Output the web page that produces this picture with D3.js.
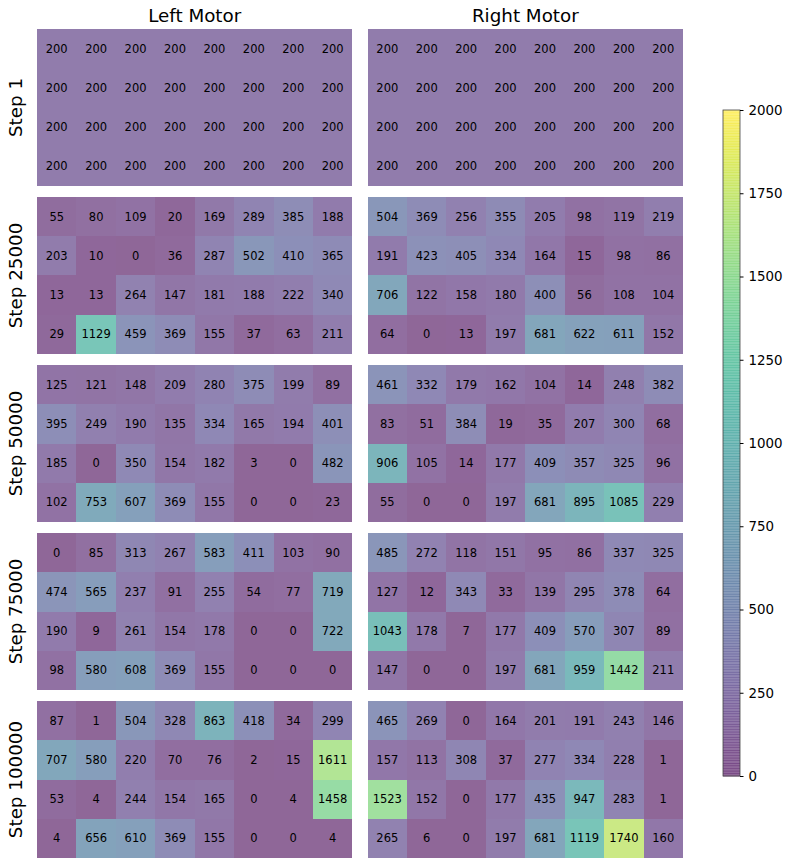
<!DOCTYPE html>
<html>
<head>
<meta charset="utf-8">
<script src="https://cdn.jsdelivr.net/npm/d3@7"></script>
<style>
  body { margin: 0; background: #fff; }
  text { font-family: "DejaVu Sans", sans-serif; }
</style>
</head>
<body>
<div id="graphic"></div>
<script>
var steps = ["Step 1", "Step 25000", "Step 50000", "Step 75000", "Step 100000"];
var motors = ["Left Motor", "Right Motor"];
var colorTicks = [0, 250, 500, 750, 1000, 1250, 1500, 1750, 2000];

// 4 rows x 8 columns for each motor, per step
var leftStep1 = [
  [200, 200, 200, 200, 200, 200, 200, 200],
  [200, 200, 200, 200, 200, 200, 200, 200],
  [200, 200, 200, 200, 200, 200, 200, 200],
  [200, 200, 200, 200, 200, 200, 200, 200]
];
var rightStep1 = [
  [200, 200, 200, 200, 200, 200, 200, 200],
  [200, 200, 200, 200, 200, 200, 200, 200],
  [200, 200, 200, 200, 200, 200, 200, 200],
  [200, 200, 200, 200, 200, 200, 200, 200]
];
var leftStep25000 = [
  [55, 80, 109, 20, 169, 289, 385, 188],
  [203, 10, 0, 36, 287, 502, 410, 365],
  [13, 13, 264, 147, 181, 188, 222, 340],
  [29, 1129, 459, 369, 155, 37, 63, 211]
];
var rightStep25000 = [
  [504, 369, 256, 355, 205, 98, 119, 219],
  [191, 423, 405, 334, 164, 15, 98, 86],
  [706, 122, 158, 180, 400, 56, 108, 104],
  [64, 0, 13, 197, 681, 622, 611, 152]
];
var leftStep50000 = [
  [125, 121, 148, 209, 280, 375, 199, 89],
  [395, 249, 190, 135, 334, 165, 194, 401],
  [185, 0, 350, 154, 182, 3, 0, 482],
  [102, 753, 607, 369, 155, 0, 0, 23]
];
var rightStep50000 = [
  [461, 332, 179, 162, 104, 14, 248, 382],
  [83, 51, 384, 19, 35, 207, 300, 68],
  [906, 105, 14, 177, 409, 357, 325, 96],
  [55, 0, 0, 197, 681, 895, 1085, 229]
];
var leftStep75000 = [
  [0, 85, 313, 267, 583, 411, 103, 90],
  [474, 565, 237, 91, 255, 54, 77, 719],
  [190, 9, 261, 154, 178, 0, 0, 722],
  [98, 580, 608, 369, 155, 0, 0, 0]
];
var rightStep75000 = [
  [485, 272, 118, 151, 95, 86, 337, 325],
  [127, 12, 343, 33, 139, 295, 378, 64],
  [1043, 178, 7, 177, 409, 570, 307, 89],
  [147, 0, 0, 197, 681, 959, 1442, 211]
];
var leftStep100000 = [
  [87, 1, 504, 328, 863, 418, 34, 299],
  [707, 580, 220, 70, 76, 2, 15, 1611],
  [53, 4, 244, 154, 165, 0, 4, 1458],
  [4, 656, 610, 369, 155, 0, 0, 4]
];
var rightStep100000 = [
  [465, 269, 0, 164, 201, 191, 243, 146],
  [157, 113, 308, 37, 277, 334, 228, 1],
  [1523, 152, 0, 177, 435, 947, 283, 1],
  [265, 6, 0, 197, 681, 1119, 1740, 160]
];

var grids = [
  [leftStep1, rightStep1],
  [leftStep25000, rightStep25000],
  [leftStep50000, rightStep50000],
  [leftStep75000, rightStep75000],
  [leftStep100000, rightStep100000]
];

var width = 789, height = 865;
var svg = d3.select("#graphic").append("svg")
  .attr("width", width)
  .attr("height", height);

var viridis = d3.scaleSequential(d3.interpolateViridis).domain([0, 2000]);
var alpha = 0.6;
// viridis at alpha 0.6 over white, as an opaque colour (no seams between cells)
function color(v) {
  var c = d3.rgb(viridis(v));
  return d3.rgb(c.r * alpha + 255 * (1 - alpha),
                c.g * alpha + 255 * (1 - alpha),
                c.b * alpha + 255 * (1 - alpha)).toString();
}

// panel placement
var panelX = d3.scaleBand().domain(motors).range([37, 683]).paddingInner(0.046);
var panelY = d3.scaleBand().domain(steps).range([29, 858]).paddingInner(0.066);

var colIdx = d3.range(8), rowIdx = d3.range(4);

steps.forEach(function(step, si) {
  motors.forEach(function(motor, mi) {
    var grid = grids[si][mi];
    var x = d3.scaleBand().domain(colIdx).range([0, panelX.bandwidth()]);
    var y = d3.scaleBand().domain(rowIdx).range([0, panelY.bandwidth()]);
    var g = svg.append("g")
      .attr("transform", "translate(" + panelX(motor) + "," + panelY(step) + ")");

    var cells = [];
    grid.forEach(function(row, r) {
      row.forEach(function(v, c) { cells.push({r: r, c: c, v: v}); });
    });

    g.selectAll(".cell")
      .data(cells)
      .enter().append("rect")
      .attr("class", "cell")
      .attr("shape-rendering", "crispEdges")
      .attr("x", function(d) { return x(d.c); })
      .attr("y", function(d) { return y(d.r); })
      .attr("width", function(d) { return x.bandwidth() + (d.c < 7 ? 1.2 : 0); })
      .attr("height", function(d) { return y.bandwidth() + (d.r < 3 ? 1.2 : 0); })
      .attr("fill", function(d) { return color(d.v); });

    g.selectAll(".lbl")
      .data(cells)
      .enter().append("text")
      .attr("class", "lbl")
      .attr("x", function(d) { return x(d.c) + x.bandwidth() / 2; })
      .attr("y", function(d) { return y(d.r) + y.bandwidth() / 2; })
      .attr("dy", "0.35em")
      .attr("text-anchor", "middle")
      .attr("font-size", "11.5px")
      .attr("fill", "#000")
      .text(function(d) { return d.v; });

    // column titles
    if (si === 0) {
      svg.append("text")
        .attr("x", panelX(motor) + panelX.bandwidth() / 2)
        .attr("y", 22)
        .attr("text-anchor", "middle")
        .attr("font-size", "18.3px")
        .text(motor);
    }
  });

  // row labels
  var cy = panelY(step) + panelY.bandwidth() / 2;
  svg.append("text")
    .attr("transform", "translate(22," + cy + ") rotate(-90)")
    .attr("text-anchor", "middle")
    .attr("font-size", "18.3px")
    .text(step);
});

// colorbar (drawn as translucent bands, like matplotlib's)
var cbX = 723, cbW = 17;
var cbScale = d3.scaleLinear().domain([0, 2000]).range([776, 110]);
var cbSteps = d3.range(0, 2000, 2000 / 256);
var cb = svg.append("g");
cb.selectAll("rect")
  .data(cbSteps)
  .enter().append("rect")
  .attr("x", cbX)
  .attr("width", cbW)
  .attr("y", function(d) { return cbScale(d + 2000 / 256); })
  .attr("height", function(d) { return cbScale(d) - cbScale(d + 2000 / 256) + 0.5; })
  .attr("fill", function(d) { return viridis(d + 1000 / 256); })
  .attr("fill-opacity", alpha);
cb.append("rect")
  .attr("x", cbX).attr("y", 110)
  .attr("width", cbW).attr("height", 666)
  .attr("fill", "none")
  .attr("stroke", "#444")
  .attr("stroke-width", 0.8);

var cbAxis = svg.append("g")
  .attr("transform", "translate(" + (cbX + cbW) + ",0)")
  .call(d3.axisRight(cbScale).tickValues(colorTicks).tickFormat(d3.format("d"))
    .tickSize(3.5).tickPadding(5));
cbAxis.select(".domain").remove();
cbAxis.selectAll("text").attr("font-size", "13.4px").attr("font-family", "DejaVu Sans, sans-serif").attr("fill", "#000");
cbAxis.selectAll("line").attr("stroke", "#000");
</script>
</body>
</html>
